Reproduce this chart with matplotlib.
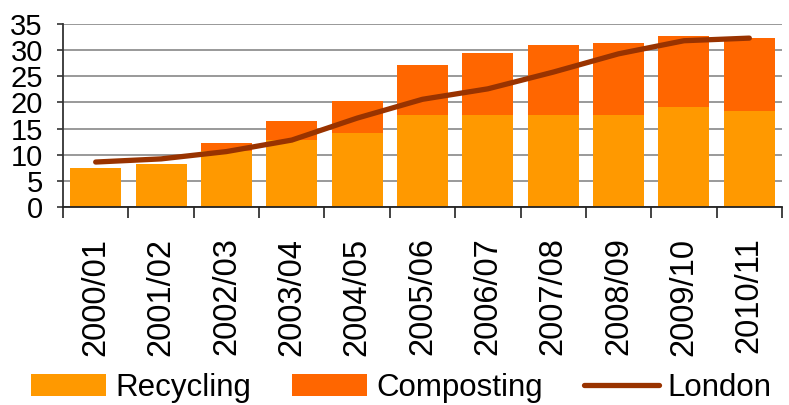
import matplotlib
matplotlib.use("Agg")
import matplotlib.pyplot as plt
import numpy as np

# household waste recycled / composted, percent
years = ["2000/01", "2001/02", "2002/03", "2003/04", "2004/05", "2005/06",
         "2006/07", "2007/08", "2008/09", "2009/10", "2010/11"]
recycling = [7.5, 8.2, 10.8, 12.8, 14.2, 17.6, 17.6, 17.6, 17.6, 19.2, 18.3]
composting = [0.0, 0.0, 1.5, 3.6, 6.0, 9.5, 11.8, 13.4, 13.7, 13.6, 14.1]
london = [8.6, 9.2, 10.6, 12.8, 17.0, 20.6, 22.6, 25.8, 29.3, 31.8, 32.3]

plt.rcParams['font.family'] = ['Liberation Sans', 'DejaVu Sans']

fig = plt.figure(figsize=(7.89, 4.05), dpi=100)
ax = fig.add_axes([63/789, 1-207/405, 719/789, 183/405])

x = np.arange(len(years))
b1 = ax.bar(x, recycling, width=0.78, color='#FF9900', label='Recycling', zorder=2)
b2 = ax.bar(x, composting, width=0.78, bottom=recycling, color='#FF6600',
            label='Composting', zorder=2)
ln, = ax.plot(x, london, color='#993300', lw=3.8, solid_capstyle='round',
              solid_joinstyle='round', label='London', zorder=3)

ax.set_xlim(-0.5, len(years)-0.5)
ax.set_ylim(0, 35)
ax.set_yticks(range(0, 36, 5))
ax.yaxis.grid(True, color='#999999', lw=1.4, zorder=0)
ax.set_axisbelow(True)

ax.set_xticks(x)
ax.set_xticklabels(years, rotation=90, fontsize=23.5)
ax.set_xticks(np.arange(-0.5, len(years), 1), minor=True)
ax.tick_params(axis='x', which='major', length=0, pad=22)
ax.tick_params(axis='x', which='minor', length=8, width=1.2, color='#222222')
ax.tick_params(axis='y', length=4.5, width=1.2, color='#333333', pad=10,
               labelsize=21)

for s in ['top', 'right']:
    ax.spines[s].set_visible(False)
ax.spines['left'].set_color('#333333')
ax.spines['left'].set_linewidth(1.3)
ax.spines['bottom'].set_color('#222222')
ax.spines['bottom'].set_linewidth(1.3)

fig.legend([b1, b2, ln], ['Recycling', 'Composting', 'London'],
           loc='lower left', bbox_to_anchor=(31/789, 2/405), ncol=3,
           frameon=False, fontsize=22.5, handlelength=2.4, handleheight=0.72,
           handletextpad=0.3, columnspacing=1.3, borderpad=0, borderaxespad=0)

fig.savefig('out.png', dpi=100)
